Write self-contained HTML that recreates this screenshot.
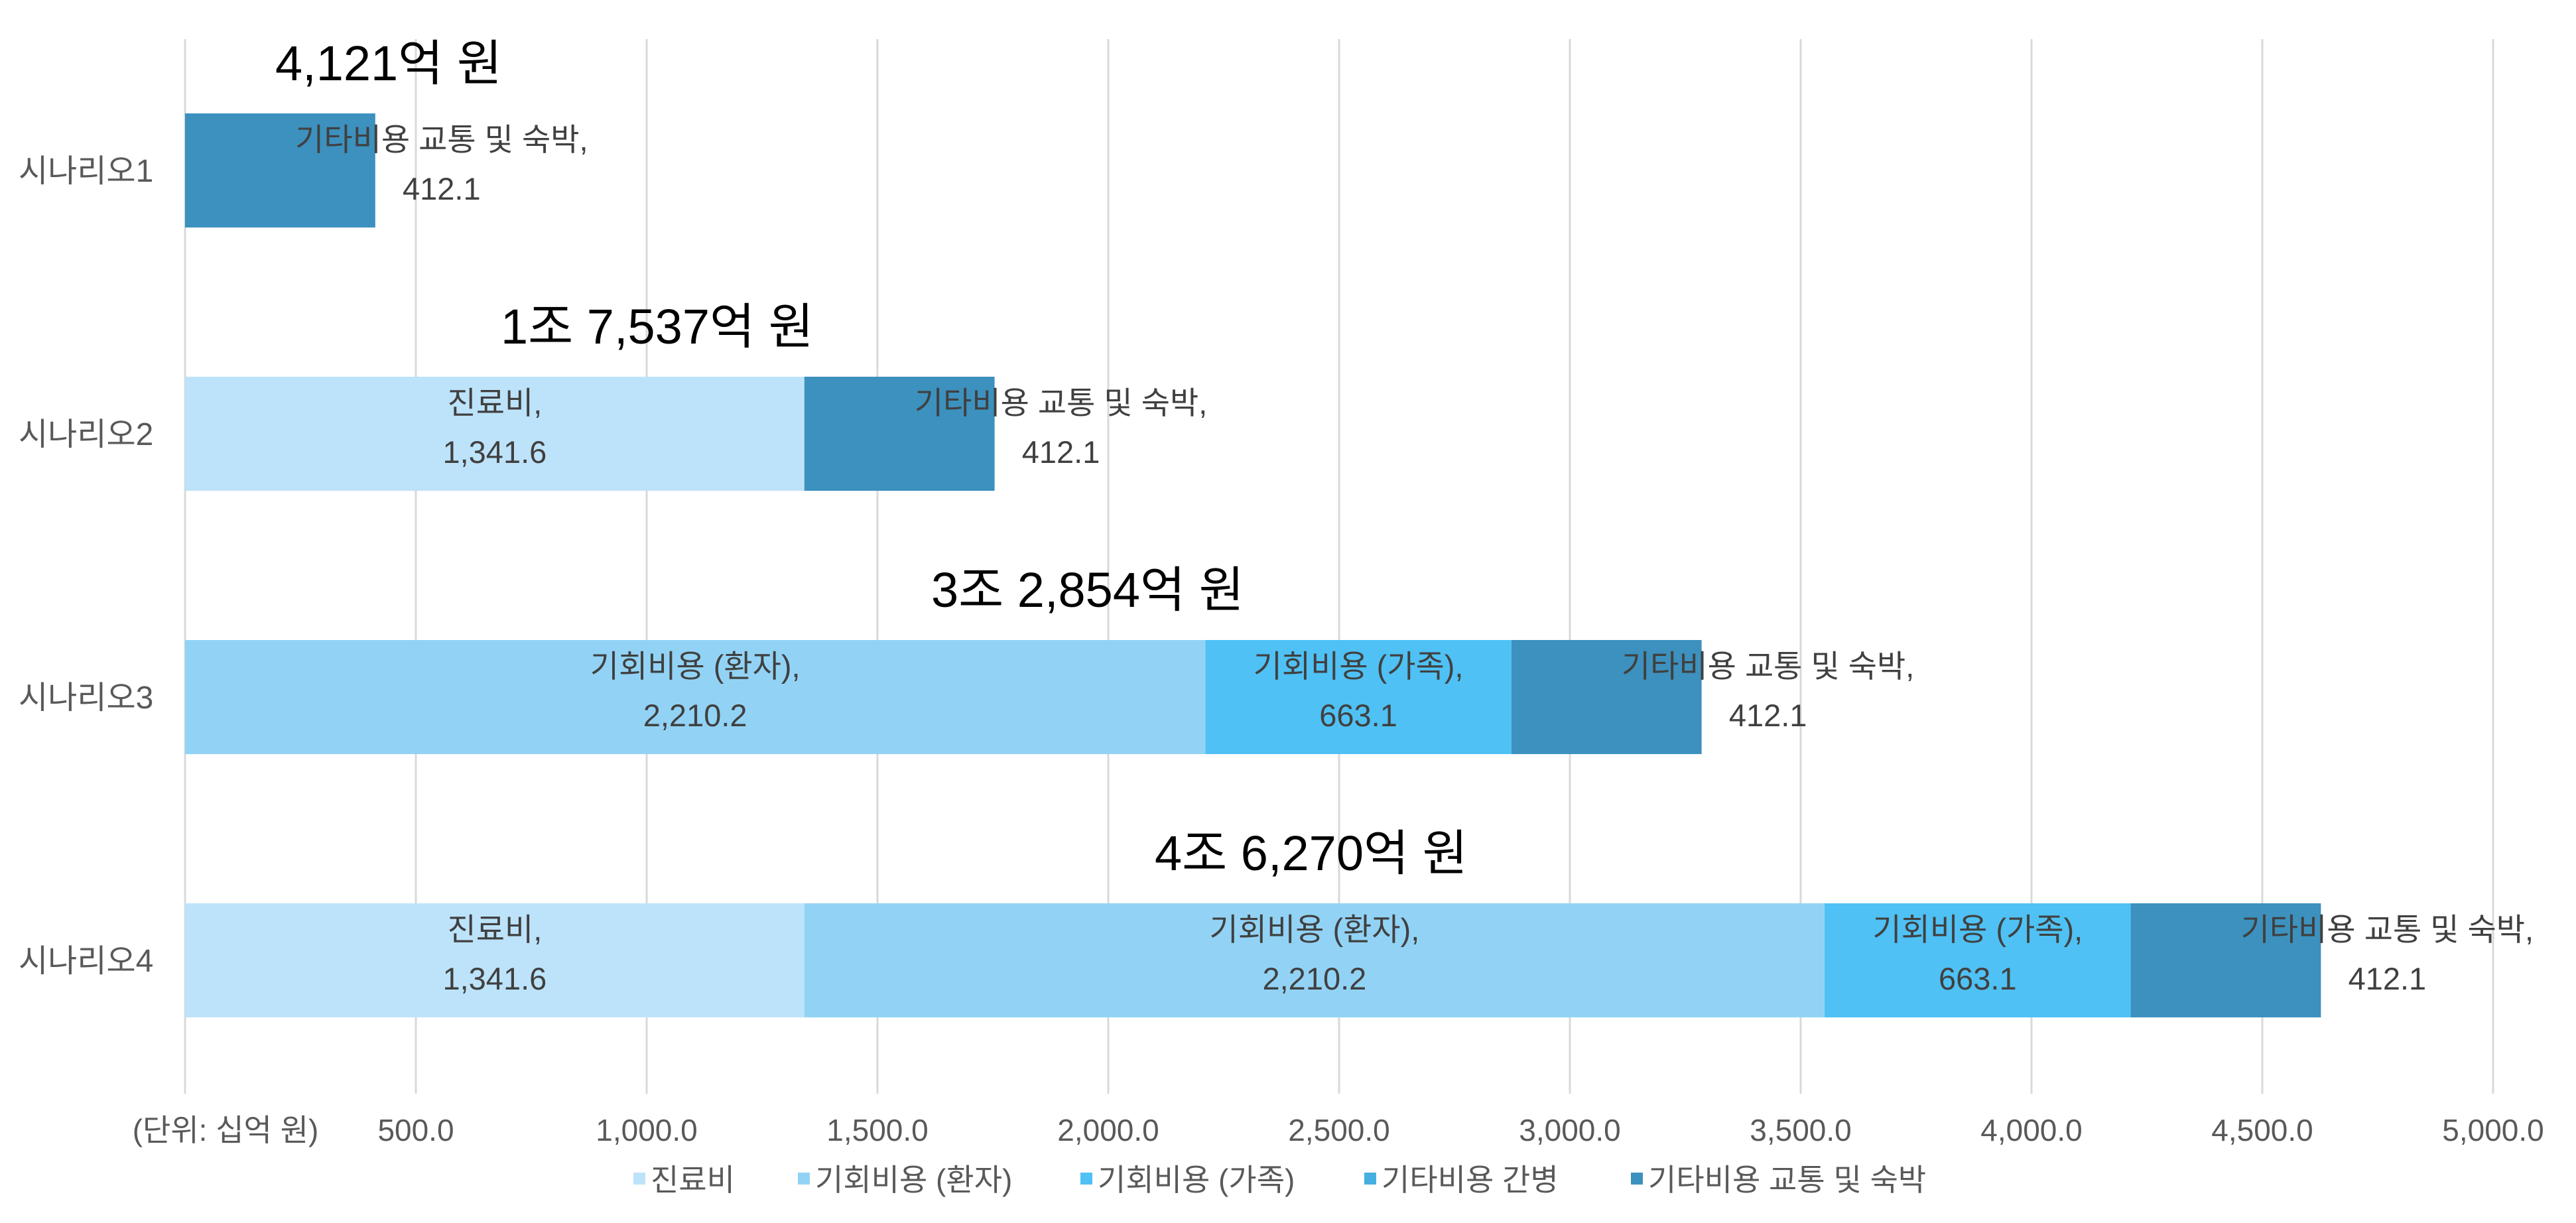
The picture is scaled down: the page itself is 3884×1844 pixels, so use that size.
<!DOCTYPE html>
<html><head><meta charset="utf-8">
<style>
html,body{margin:0;padding:0;background:#fff;}
svg text{font-family:"Liberation Sans","Noto Sans CJK KR",sans-serif;}
</style></head>
<body>
<svg id="chart" width="3884" height="1839" viewBox="0 0 3884 1839" xmlns="http://www.w3.org/2000/svg">
<g id="grid"></g>
<g id="bars"></g>
<g id="labels"></g>
<g id="axes"></g>
<g id="legend"></g>
</svg>
<script>
const categories = ["시나리오1","시나리오2","시나리오3","시나리오4"];
const seriesNames = ["진료비","기회비용 (환자)","기회비용 (가족)","기타비용 간병","기타비용 교통 및 숙박"];
const s1 = [0, 1341.6, 0, 1341.6];
const s2 = [0, 0, 2210.2, 2210.2];
const s3 = [0, 0, 663.1, 663.1];
const s4 = [0, 0, 0, 0];
const s5 = [412.1, 412.1, 412.1, 412.1];
const totalLabels = ["4,121억 원","1조 7,537억 원","3조 2,854억 원","4조 6,270억 원"];
const totalLabelX = [415, 755, 1404, 1741];
const xTicks = [500,1000,1500,2000,2500,3000,3500,4000,4500,5000];
const xTickLabels = ["500.0","1,000.0","1,500.0","2,000.0","2,500.0","3,000.0","3,500.0","4,000.0","4,500.0","5,000.0"];

const colors = ["#BDE3FA","#92D3F5","#4FC1F4","#45B0E0","#3C91BE"];
const series = [s1,s2,s3,s4,s5];
const NS="http://www.w3.org/2000/svg";
const X0=279, PXU=0.696;
const xs = v => X0 + v*PXU;
const yTop = i => 171 + i*397;
const BH = 172;
function mk(tag, attrs, parent){const e=document.createElementNS(NS,tag);for(const k in attrs)e.setAttribute(k,attrs[k]);parent.appendChild(e);return e;}
const grid=document.getElementById('grid'), bars=document.getElementById('bars'), labels=document.getElementById('labels'), axes=document.getElementById('axes'), legend=document.getElementById('legend');

[0].concat(xTicks).forEach(t=>{
  const l=mk('line',{x1:xs(t),x2:xs(t),y1:59,y2:1649,stroke:'#D9D9D9','stroke-width':3},grid);
  
  
});
xTicks.forEach((t,i)=>{
  const tx=mk('text',{x:xs(t),y:1720,'text-anchor':'middle','font-size':46,fill:'#595959'},axes);
  tx.textContent=xTickLabels[i];
  
  
});
const unit=mk('text',{x:340,y:1720,'text-anchor':'middle','font-size':46,fill:'#595959'},axes);
unit.textContent='(단위: 십억 원)';



categories.forEach((c,i)=>{
  const t=mk('text',{x:28,y:yTop(i)+BH/2+17,'font-size':48,fill:'#595959'},axes);
  t.textContent=c;
  
  
  let acc=0;
  series.forEach((s,k)=>{
    const v=s[i]; if(!v) return;
    const r=mk('rect',{x:xs(acc),y:yTop(i),width:v*PXU,height:BH,fill:colors[k]},bars);
    
    
    const last = k===4;
    const cx = last ? xs(acc+v)+100 : xs(acc+v/2);
    const vs = v.toLocaleString('en-US',{minimumFractionDigits:1,maximumFractionDigits:1});
    const l1=mk('text',{x:cx,y:yTop(i)+BH/2-30,'text-anchor':'middle','font-size':47,fill:'#404040'},labels);
    l1.textContent=seriesNames[k]+',';
    
    
    const l2=mk('text',{x:cx,y:yTop(i)+BH/2+44,'text-anchor':'middle','font-size':47,fill:'#404040'},labels);
    l2.textContent=vs;
    
    
    acc+=v;
  });
  const tt=mk('text',{x:totalLabelX[i],y:yTop(i)-50,'font-size':74,fill:'#000'},labels);
  tt.textContent=totalLabels[i];
  
  
});

const legX=[955,1203,1629,2057,2459];
seriesNames.forEach((n,k)=>{
  const g=mk('g',{},legend);
  
  
  mk('rect',{x:legX[k],y:1768,width:18,height:18,fill:colors[k]},g);
  const t=mk('text',{x:legX[k]+26,y:1795,'font-size':46,fill:'#595959'},g);
  t.textContent=n;
});
</script>
</body></html>
